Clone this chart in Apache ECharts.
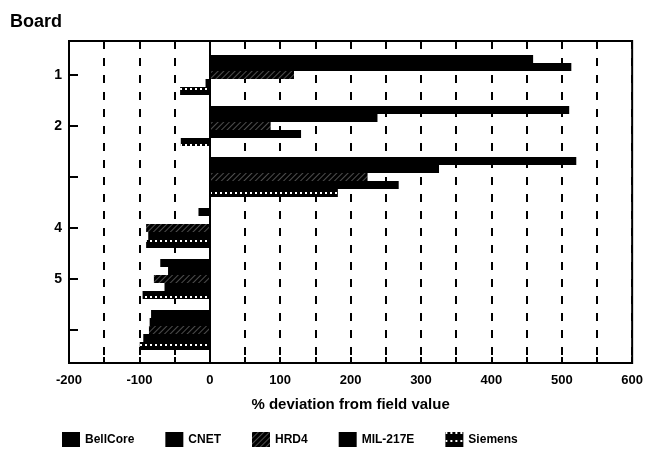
<!DOCTYPE html>
<html>
<head>
<meta charset="utf-8">
<script src="https://cdn.jsdelivr.net/npm/echarts@6/dist/echarts.min.js"></script>
<style>html,body{margin:0;padding:0;background:#fff;}#c{width:646px;height:451px;}</style>
</head>
<body>
<div id="c"></div>
<script>
var boards = ['1', '2', '3', '4', '5', '6'];
var boardLabels = ['1', '2', '', '4', '5', ''];
var seriesNames = ['BellCore', 'CNET', 'HRD4', 'MIL-217E', 'Siemens'];
var bellcore = [456, 507, 517, -17, -71, -84];
var cnet = [510, 236, 323, -2, -60, -86];
var hrd4 = [118, 85, 222, -91, -80, -87];
var mil217e = [-7, 128, 266, -88, -65, -95];
var siemens = [-43, -42, 180, -91, -96, -100];
var xMin = -200, xMax = 600, xStep = 50, xLabelStep = 100;

var FONT = "'Liberation Sans', Arial, sans-serif";
var chart = echarts.init(document.getElementById('c'), null, {renderer: 'canvas'});

var decals = [
  null,
  null,
  {symbol: 'rect', symbolSize: 1, color: 'rgba(255,255,255,0.3)', dashArrayX: [1, 0], dashArrayY: [1, 3], rotation: -Math.PI / 4},
  null,
  {symbol: 'rect', symbolSize: 1, color: '#ffffff', dashArrayX: [2, 3], dashArrayY: [2, 6], rotation: 0}
];
var values = [bellcore, cnet, hrd4, mil217e, siemens];

var barSeries = seriesNames.map(function (n, i) {
  var s = {
    name: n,
    type: 'bar',
    xAxisIndex: 0,
    yAxisIndex: 0,
    data: values[i],
    barGap: '0%',
    barCategoryGap: '21.5%',
    itemStyle: {color: '#000'}
  };
  if (decals[i]) s.itemStyle.decal = decals[i];
  return s;
});

barSeries.push({
  name: 'zero',
  type: 'line',
  xAxisIndex: 1,
  yAxisIndex: 1,
  data: [],
  markLine: {
    silent: true,
    symbol: 'none',
    label: {show: false},
    lineStyle: {type: 'solid', color: '#000', width: 2},
    data: [{xAxis: 0}]
  }
});

chart.setOption({
  animation: false,
  backgroundColor: '#fff',
  title: {
    text: 'Board', left: 5, top: 8,
    textStyle: {fontFamily: FONT, fontSize: 18, fontWeight: 'bold', color: '#000'}
  },
  legend: {
    data: seriesNames,
    left: 57, top: 427,
    itemWidth: 18, itemHeight: 15, itemGap: 31,
    icon: 'rect',
    textStyle: {fontFamily: FONT, fontSize: 12, fontWeight: 'bold', color: '#000'}
  },
  grid: [
    {left: 69, right: 11, top: 49.5, bottom: 95.5, containLabel: false},
    {left: 69, right: 11, top: 41, bottom: 88, containLabel: false, show: true, borderColor: '#000', borderWidth: 2, backgroundColor: 'transparent'}
  ],
  xAxis: [
    {gridIndex: 0, type: 'value', min: xMin, max: xMax, interval: xStep, show: false},
    {
      gridIndex: 1, type: 'value', min: xMin, max: xMax, interval: xStep,
      axisLine: {show: true, lineStyle: {color: '#000', width: 2}},
      axisTick: {show: true, inside: true, length: 6, lineStyle: {color: '#000', width: 2}},
      axisLabel: {
        margin: 11, fontFamily: FONT, fontSize: 13, fontWeight: 'bold', color: '#000',
        formatter: function (v) { return (v % xLabelStep === 0) ? String(v) : ''; }
      },
      splitLine: {show: true, lineStyle: {color: '#000', width: 2, type: [8, 9]}},
      name: '% deviation from field value',
      nameLocation: 'middle', nameGap: 34,
      nameTextStyle: {fontFamily: FONT, fontSize: 15, fontWeight: 'bold', color: '#000'}
    }
  ],
  yAxis: [
    {
      gridIndex: 0, type: 'category', data: boards, inverse: true,
      axisLine: {show: false, onZero: false},
      axisTick: {show: true, inside: true, length: 9, alignWithLabel: true, lineStyle: {color: '#000', width: 2}},
      axisLabel: {
        margin: 7, fontFamily: FONT, fontSize: 14, fontWeight: 'bold', color: '#000',
        formatter: function (v, idx) { return boardLabels[idx]; }
      },
      splitLine: {show: false}
    },
    {gridIndex: 1, type: 'value', min: 0, max: 1, show: false}
  ],
  series: barSeries
});
</script>
</body>
</html>
